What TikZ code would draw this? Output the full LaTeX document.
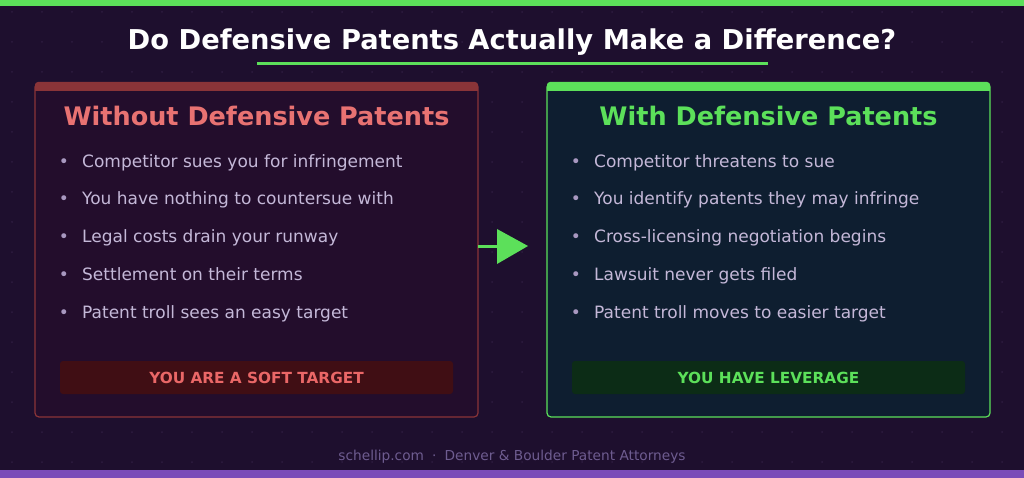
\documentclass[tikz,border=0pt]{standalone}
\usepackage{fontspec}
\setmainfont{DejaVu Sans}
\definecolor{bg}{HTML}{1E0F2E}
\definecolor{dotc}{HTML}{2E1C40}
\definecolor{grn}{HTML}{5CE05A}
\definecolor{redb}{HTML}{8A3438}
\definecolor{redt}{HTML}{E87272}
\definecolor{lfill}{HTML}{230D2C}
\definecolor{rfill}{HTML}{0E1E30}
\definecolor{txt}{HTML}{C4B8D8}
\definecolor{bul}{HTML}{A898C0}
\definecolor{lbadge}{HTML}{400E14}
\definecolor{rbadge}{HTML}{0C2C16}
\definecolor{foot}{HTML}{6E5C90}
\definecolor{purp}{HTML}{7A4CB8}
\tikzset{
  item/.style={anchor=base west,text=txt,font=\fontsize{17}{20}\selectfont,inner sep=0},
  dotb/.style={anchor=base,text=bul,font=\fontsize{17}{20}\selectfont,inner sep=0},
  btitle/.style={font=\bfseries\fontsize{25.5}{30}\selectfont,inner sep=0},
  badgetxt/.style={font=\bfseries\fontsize{15.3}{18}\selectfont,inner sep=0}
}
\begin{document}
\begin{tikzpicture}[x=1pt,y=-1pt]
\useasboundingbox (0,0) rectangle (1024,478);
\fill[bg] (0,0) rectangle (1024,478);
\foreach \i in {0,...,34}{\foreach \j in {0,...,16}{\fill[dotc] (12+30*\i,12+30*\j) circle (1);}}
\fill[grn] (0,0) rectangle (1024,6);
\fill[purp] (0,470) rectangle (1024,478);
\node[text=white,font=\bfseries\fontsize{27.3}{32}\selectfont,inner sep=0] (title) at (512,42) {Do Defensive Patents Actually Make a Difference?};
\fill[grn] (257,62) rectangle (768,65);
% left box
\draw[redb,fill=lfill,line width=1.2,rounded corners=4] (35,83) rectangle (478,417);
\fill[redb,rounded corners=3] (35,82) rectangle (478,91);
\fill[redb] (35,87) rectangle (478,91);
\node[btitle,text=redt] (lt) at (256.5,116) {Without Defensive Patents};
\foreach \y/\t [count=\k] in {162/Competitor sues you for infringement,199/You have nothing to countersue with,237/Legal costs drain your runway,274/Settlement on their terms,312/Patent troll sees an easy target}{
  \node[dotb] (lb\k) at (64,\y+6) {•};
  \node[item] (l\k) at (82,\y+6) {\t};
}
\fill[lbadge,rounded corners=3] (60,361) rectangle (453,394);
\node[badgetxt,text=redt!90!red] (lbadge) at (256.5,378) {YOU ARE A SOFT TARGET};
% right box
\draw[grn,fill=rfill,line width=1.2,rounded corners=4] (547,83) rectangle (990,417);
\fill[grn,rounded corners=3] (547,82) rectangle (990,91);
\fill[grn] (547,87) rectangle (990,91);
\node[btitle,text=grn] (rt) at (768.5,116) {With Defensive Patents};
\foreach \y/\t [count=\k] in {162/Competitor threatens to sue,199/You identify patents they may infringe,237/Cross-licensing negotiation begins,274/Lawsuit never gets filed,312/Patent troll moves to easier target}{
  \node[dotb] (rb\k) at (576,\y+6) {•};
  \node[item] (r\k) at (594,\y+6) {\t};
}
\fill[rbadge,rounded corners=3] (572,361) rectangle (965,394);
\node[badgetxt,text=grn] (rbadge) at (768.5,378) {YOU HAVE LEVERAGE};
% arrow
\coordinate (as) at (478,246);
\coordinate (ae) at (500,246);
\draw[grn,line width=3] (as) -- (ae);
\fill[grn] (497,229) -- (528,246) -- (497,264) -- cycle;
\node[text=foot,font=\fontsize{13.7}{16}\selectfont,inner sep=0] (foot) at (512,457) {schellip.com \;·\; Denver \& Boulder Patent Attorneys};
\end{tikzpicture}
\end{document}
